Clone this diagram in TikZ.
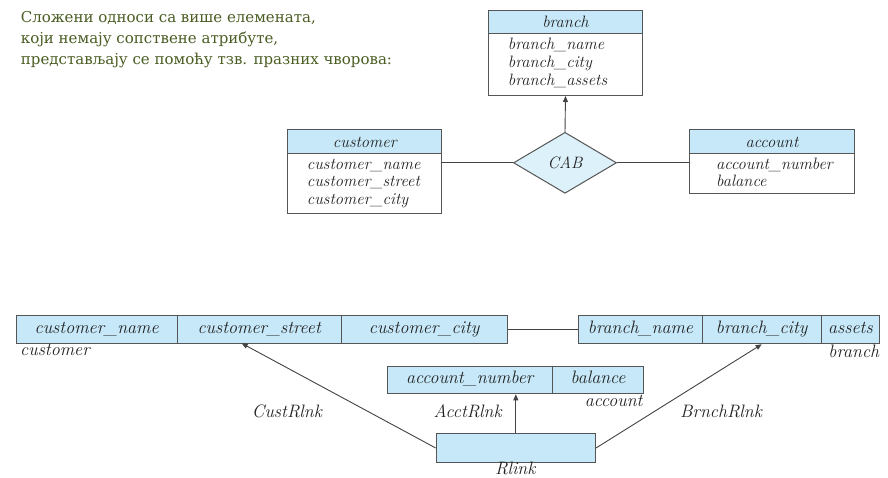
\documentclass[tikz,border=0pt]{standalone}
\usepackage{fontspec}
\newfontfamily\cyrfont{DejaVu Serif}
\usetikzlibrary{arrows.meta,shapes.geometric}
\definecolor{hdrblue}{HTML}{C6E8F8}
\definecolor{diablue}{HTML}{DDF1FA}
\definecolor{boxline}{HTML}{555555}
\definecolor{olivetxt}{HTML}{4A5D23}
\definecolor{ink}{HTML}{222222}
\tikzset{
 erhdr/.style={draw=boxline, line width=1pt, fill=hdrblue, anchor=north west, inner sep=0pt,
   font=\fontsize{16.5}{18}\selectfont\itshape, text=ink, text height=11pt, text depth=0pt},
 erbody/.style={draw=boxline, line width=1pt, fill=white, anchor=north west, inner sep=0pt},
 attr/.style={anchor=base west, inner sep=0pt, font=\fontsize{16.5}{18}\selectfont\itshape, text=ink},
 cell/.style={draw=boxline, line width=1pt, fill=hdrblue, anchor=north west, inner sep=0pt,
   font=\fontsize{18}{20}\selectfont\itshape, text=ink, text height=7pt, text depth=0pt},
 lbl/.style={inner sep=0pt, font=\fontsize{18}{20}\selectfont\itshape, text=ink},
 conn/.style={draw=ink!85, line width=0.9pt},
 arr/.style={conn, -{Triangle[length=6pt,width=5pt]}},
 intro/.style={anchor=base west, inner sep=0pt, font=\cyrfont\fontsize{15}{18}\selectfont, text=olivetxt},
}
\begin{document}
\begin{tikzpicture}[x=1pt,y=-1pt]
\path[fill=white] (0,0) rectangle (888,477);
\useasboundingbox (0,0) rectangle (888,477);

% intro text
\node[intro] (l1) at (20.7,22.7) {Сложени односи са више елемената,};
\node[intro] (l2) at (20.7,43.7) {који немају сопствене атрибуте,};
\node[intro] (l3) at (20.7,64.7) {представљају се помоћу тзв. празних чворова:};

% branch entity
\node[erhdr, minimum width=154pt, minimum height=23.3pt] (bhdr) at (488,10) {branch};
\node[erbody, minimum width=154pt, minimum height=61.7pt] (bbody) at (488,33.3) {};
\node[attr] (ba1) at (507.7,49.5) {branch\_name};
\node[attr] (ba2) at (507.7,67.3) {branch\_city};
\node[attr] (ba3) at (507.7,85.2) {branch\_assets};

% customer entity
\node[erhdr, minimum width=154pt, minimum height=24pt] (chdr) at (287.3,129.3) {customer};
\node[erbody, minimum width=154pt, minimum height=60pt] (cbody) at (287.3,153.3) {};
\node[attr] (ca1) at (306.7,169) {customer\_name};
\node[attr] (ca2) at (306.7,186.7) {customer\_street};
\node[attr] (ca3) at (306.7,204.3) {customer\_city};

% account entity
\node[erhdr, minimum width=165pt, minimum height=24pt] (ahdr) at (689,129.3) {account};
\node[erbody, minimum width=165pt, minimum height=40pt] (abody) at (689,153.3) {};
\node[attr] (aa1) at (716,169) {account\_number};
\node[attr] (aa2) at (716,186.7) {balance};

% relationship
\node[diamond, draw=boxline, line width=1pt, fill=diablue, inner sep=0pt,
  minimum width=103pt, minimum height=61pt, font=\fontsize{16.5}{18}\selectfont\itshape, text=ink]
  (cab) at (565,162.8) {CAB};

\draw[conn] (cab.west -| cbody.east) -- (cab.west);
\draw[conn] (cab.east) -- (cab.east -| abody.west);
\draw[arr] (cab.north) -- (bbody.south);

% bottom: relation schemas
\node[cell, minimum width=161pt, minimum height=28.3pt] (cn) at (15.7,315) {customer\_name};
\node[cell, minimum width=164pt, minimum height=28.3pt] (cs) at (176.7,315) {customer\_street};
\node[cell, minimum width=166pt, minimum height=28.3pt] (cc) at (340.7,315) {customer\_city};
\node[lbl, anchor=base west] (custlbl) at (20,355) {customer};

\node[cell, minimum width=123.4pt, minimum height=28.3pt] (bn) at (578.3,315) {branch\_name};
\node[cell, minimum width=119pt, minimum height=28.3pt] (bc) at (701.7,315) {branch\_city};
\node[cell, minimum width=58.6pt, minimum height=28.3pt] (bs) at (820.7,315) {assets};
\node[lbl, anchor=base east] (brlbl) at (879.3,357) {branch};

\node[cell, minimum width=165pt, minimum height=27.6pt] (an) at (386.7,365.7) {account\_number};
\node[cell, minimum width=91.6pt, minimum height=27.6pt] (ab) at (551.7,365.7) {balance};
\node[lbl, anchor=base east] (aclbl) at (642.7,406.7) {account};

\node[cell, minimum width=159.3pt, minimum height=28.4pt] (rl) at (435.7,433.3) {};
\node[lbl, anchor=base] (rllbl) at (515.3,474) {Rlink};

\coordinate (custtip) at (241.7,343.3);

\draw[conn] (cc.east) -- (bn.west);
\draw[arr] (rl.north) -- (rl.north |- an.south);
\draw[arr] (rl.west) -- (custtip);
\draw[arr] (rl.east) -- (bc.south);

\node[lbl, anchor=base west] (custrl) at (251.7,417.3) {CustRlnk};
\node[lbl, anchor=base west] (acctrl) at (433.3,417.3) {AcctRlnk};
\node[lbl, anchor=base west] (brnchrl) at (680,417.3) {BrnchRlnk};
\end{tikzpicture}
\end{document}
